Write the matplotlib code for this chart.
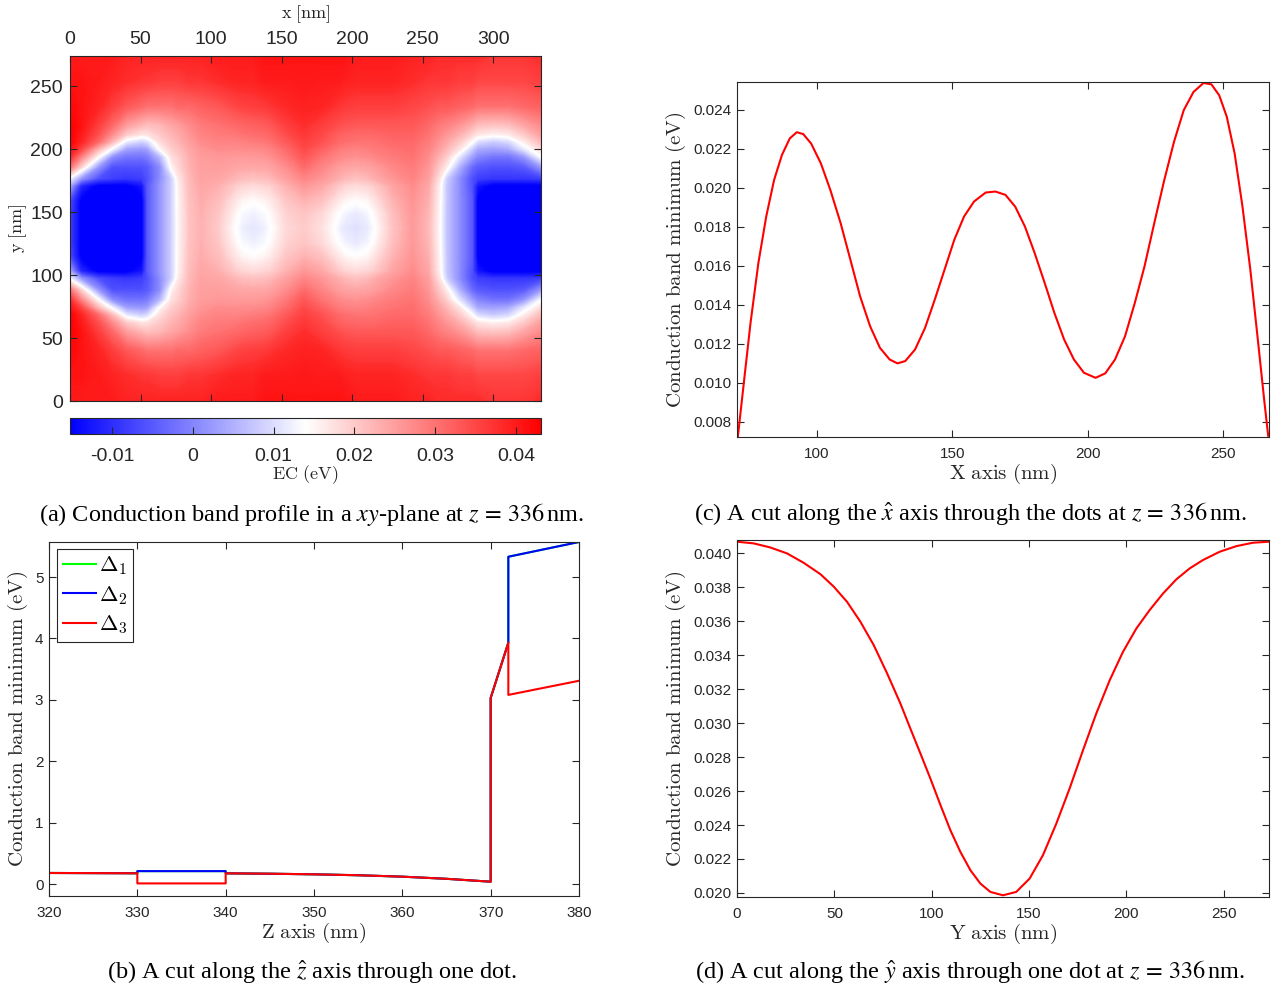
import numpy as np
import matplotlib
matplotlib.use("Agg")
import matplotlib.pyplot as plt
from matplotlib.colors import Normalize
from matplotlib.cm import ScalarMappable
from matplotlib.font_manager import FontProperties
from matplotlib.ticker import FormatStrFormatter

plt.rcParams['font.family'] = ['Liberation Sans', 'DejaVu Sans']
plt.rcParams['mathtext.fontset'] = 'stix'

# ---------------- data ----------------
# (a) conduction band in the xy-plane: grid values (eV), lower half, mirrored about y = 137 nm
map_x = [0, 8, 20, 30, 40, 51, 55, 64, 72, 77, 85, 93, 105, 118, 122, 130, 138, 142, 154,
         166, 178, 191, 195, 203, 211, 215, 229, 243, 254, 262, 267, 276, 285, 289, 300, 311, 322, 334]
map_y_half = [0, 20, 40, 55, 62, 68, 74, 80, 88, 97, 103, 115, 125, 137]
map_ec_half = [
    # y = 0
    [0.040, 0.040, 0.040, 0.040, 0.039, 0.039, 0.039, 0.039, 0.039, 0.039, 0.039, 0.039, 0.040, 0.040, 0.040,
     0.040, 0.041, 0.041, 0.041, 0.0408, 0.041, 0.041, 0.041, 0.040, 0.040, 0.040, 0.040, 0.039, 0.039, 0.038,
     0.038, 0.038, 0.038, 0.038, 0.037, 0.037, 0.037, 0.038],
    # y = 20
    [0.041, 0.041, 0.040, 0.039, 0.038, 0.037, 0.037, 0.036, 0.036, 0.036, 0.037, 0.037, 0.038, 0.039, 0.039,
     0.039, 0.040, 0.040, 0.040, 0.0403, 0.040, 0.040, 0.0395, 0.039, 0.039, 0.039, 0.039, 0.038, 0.037, 0.037,
     0.037, 0.036, 0.036, 0.035, 0.035, 0.035, 0.035, 0.036],
    # y = 40
    [0.042, 0.041, 0.039, 0.036, 0.033, 0.031, 0.030, 0.030, 0.030, 0.031, 0.031, 0.032, 0.033, 0.035, 0.0355,
     0.036, 0.0365, 0.037, 0.0385, 0.0393, 0.039, 0.037, 0.0365, 0.036, 0.036, 0.036, 0.036, 0.035, 0.034, 0.033,
     0.033, 0.032, 0.031, 0.030, 0.030, 0.030, 0.031, 0.032],
    # y = 55
    [0.043, 0.041, 0.036, 0.031, 0.025, 0.022, 0.021, 0.022, 0.024, 0.025, 0.027, 0.029, 0.030, 0.031, 0.0313,
     0.032, 0.0325, 0.033, 0.036, 0.0378, 0.036, 0.034, 0.0335, 0.033, 0.033, 0.033, 0.033, 0.033, 0.031, 0.029,
     0.028, 0.026, 0.023, 0.021, 0.0205, 0.021, 0.024, 0.027],
    # y = 62
    [0.043, 0.040, 0.034, 0.027, 0.020, 0.017, 0.0175, 0.020, 0.0225, 0.0235, 0.026, 0.028, 0.029, 0.0295, 0.030,
     0.0305, 0.031, 0.0315, 0.0345, 0.0368, 0.035, 0.032, 0.0315, 0.031, 0.031, 0.031, 0.032, 0.032, 0.030, 0.0275,
     0.026, 0.023, 0.019, 0.017, 0.0155, 0.0165, 0.020, 0.025],
    # y = 68
    [0.043, 0.039, 0.031, 0.022, 0.0115, 0.0085, 0.010, 0.018, 0.021, 0.0225, 0.025, 0.027, 0.028, 0.028, 0.0283,
     0.029, 0.0295, 0.030, 0.033, 0.0357, 0.034, 0.031, 0.0305, 0.030, 0.030, 0.030, 0.031, 0.031, 0.029, 0.026,
     0.024, 0.020, 0.0145, 0.010, 0.008, 0.0095, 0.016, 0.022],
    # y = 74
    [0.041, 0.035, 0.022, 0.0125, 0.003, 0.002, 0.003, 0.0145, 0.0195, 0.021, 0.024, 0.026, 0.027, 0.0268, 0.027,
     0.027, 0.0275, 0.028, 0.031, 0.0346, 0.032, 0.029, 0.0285, 0.028, 0.0285, 0.029, 0.030, 0.0305, 0.028, 0.0245,
     0.022, 0.017, 0.008, 0.004, 0.003, 0.004, 0.011, 0.018],
    # y = 80
    [0.038, 0.028, 0.0145, 0.001, -0.002, -0.002, -0.001, 0.006, 0.0175, 0.0195, 0.0232, 0.0252, 0.0258, 0.0255, 0.0255,
     0.0256, 0.026, 0.0265, 0.0295, 0.0332, 0.030, 0.0275, 0.027, 0.0265, 0.027, 0.0275, 0.029, 0.030, 0.027, 0.0225,
     0.0195, 0.011, 0.003, 0.000, -0.002, -0.002, 0.002, 0.0135],
    # y = 88
    [0.030, 0.019, 0.002, -0.006, -0.006, -0.006, -0.005, 0.001, 0.015, 0.0185, 0.0228, 0.0248, 0.025, 0.0242, 0.024,
     0.024, 0.024, 0.0245, 0.027, 0.0308, 0.028, 0.025, 0.0245, 0.024, 0.0245, 0.025, 0.0275, 0.029, 0.026, 0.020,
     0.016, 0.005, -0.003, -0.005, -0.006, -0.006, -0.005, 0.002],
    # y = 97
    [0.013, 0.002, -0.006, -0.008, -0.009, -0.008, -0.006, 0.001, 0.0085, 0.0165, 0.022, 0.0245, 0.024, 0.0222, 0.0215,
     0.021, 0.0215, 0.022, 0.025, 0.0278, 0.026, 0.023, 0.022, 0.021, 0.022, 0.023, 0.026, 0.028, 0.025, 0.017,
     0.0085, 0.001, -0.006, -0.008, -0.009, -0.009, -0.009, -0.008],
    # y = 103
    [0.004, -0.011, -0.016, -0.016, -0.016, -0.013, -0.005, 0.002, 0.0085, 0.0156, 0.0218, 0.024, 0.023, 0.0195, 0.0188,
     0.018, 0.0188, 0.0192, 0.0228, 0.0259, 0.024, 0.020, 0.0188, 0.018, 0.0188, 0.0195, 0.0243, 0.027, 0.024, 0.0155,
     0.0075, 0.001, -0.006, -0.013, -0.016, -0.016, -0.016, -0.016],
    # y = 115
    [-0.007, -0.016, -0.030, -0.030, -0.030, -0.016, -0.005, 0.002, 0.0085, 0.0153, 0.0213, 0.0233, 0.0215, 0.0165, 0.0152,
     0.0142, 0.0152, 0.0162, 0.0205, 0.0226, 0.0210, 0.0163, 0.0150, 0.0140, 0.0150, 0.0165, 0.0225, 0.0262, 0.0230, 0.0150,
     0.0074, 0.001, -0.005, -0.016, -0.030, -0.030, -0.030, -0.030],
    # y = 125
    [-0.008, -0.016, -0.030, -0.030, -0.030, -0.016, -0.005, 0.002, 0.0085, 0.0152, 0.021, 0.023, 0.0205, 0.0148, 0.0131,
     0.0122, 0.0132, 0.0145, 0.0192, 0.0205, 0.0185, 0.0138, 0.0125, 0.0115, 0.0127, 0.0143, 0.0213, 0.0257, 0.0224, 0.0147,
     0.0073, 0.001, -0.005, -0.016, -0.030, -0.030, -0.030, -0.030],
    # y = 137
    [-0.008, -0.016, -0.030, -0.030, -0.030, -0.016, -0.005, 0.002, 0.0085, 0.0150, 0.021, 0.0228, 0.0199, 0.0136, 0.0121,
     0.011, 0.0121, 0.0135, 0.0185, 0.0198, 0.0176, 0.0122, 0.0112, 0.0103, 0.0115, 0.0130, 0.0207, 0.0254, 0.0220, 0.0145,
     0.0072, 0.001, -0.005, -0.016, -0.030, -0.030, -0.030, -0.030],
]
map_y_max = 274
ec_min, ec_max = -0.0152, 0.0431
cbar_ticks = [-0.01, 0, 0.01, 0.02, 0.03, 0.04]
cbar_labels = ['-0.01', '0', '0.01', '0.02', '0.03', '0.04']

# (c) cut along x
cut_x = [70.7, 73.2, 75.4, 78.3, 81.2, 84.1, 87.0, 89.9, 92.5, 94.9, 97.8, 101.4, 104.9, 108.7, 112.3,
         115.9, 119.6, 123.2, 126.8, 129.7, 132.6, 136.2, 139.9, 143.5, 147.1, 150.7, 154.3, 158.0,
         162.3, 165.9, 169.6, 173.2, 176.8, 180.4, 184.1, 187.7, 191.3, 194.9, 198.6, 202.9, 206.5,
         210.1, 213.8, 217.4, 221.0, 224.6, 228.3, 231.9, 235.5, 239.1, 242.8, 245.7, 248.6, 251.4,
         254.3, 257.2, 260.1, 263.0, 265.2, 266.7]
cut_x_ec = [0.00723, 0.01035, 0.01307, 0.01614, 0.01852, 0.02039, 0.02167, 0.02252, 0.02284, 0.02274,
            0.02226, 0.02124, 0.01988, 0.01818, 0.01631, 0.01443, 0.01290, 0.01180, 0.01120, 0.01100,
            0.01112, 0.01171, 0.01282, 0.01427, 0.01580, 0.01733, 0.01852, 0.01929, 0.01975, 0.01980,
            0.01963, 0.01903, 0.01801, 0.01665, 0.01512, 0.01358, 0.01222, 0.01120, 0.01052, 0.01026,
            0.01049, 0.01120, 0.01239, 0.01409, 0.01597, 0.01818, 0.02039, 0.02235, 0.02397, 0.02490,
            0.02536, 0.02529, 0.02473, 0.02363, 0.02175, 0.01903, 0.01580, 0.01205, 0.00916, 0.00729]

# (d) cut along y
cut_y = [0, 8.6, 17.1, 25.7, 34.2, 42.8, 49.7, 56.5, 63.4, 70.2, 77.1, 83.9, 89.0, 94.2, 99.3, 104.5,
         109.6, 114.7, 119.9, 125.0, 130.1, 136.6, 143.4, 150.3, 157.1, 164.0, 170.8, 177.7, 184.5,
         191.4, 198.2, 205.1, 211.9, 218.8, 225.6, 232.5, 239.3, 247.9, 256.5, 265.0, 273.2]
cut_y_ec = [0.04069, 0.04059, 0.04035, 0.04000, 0.03945, 0.03878, 0.03804, 0.03715, 0.03597, 0.03460,
            0.03293, 0.03116, 0.02969, 0.02821, 0.02674, 0.02517, 0.02369, 0.02242, 0.02133, 0.02055,
            0.02006, 0.01986, 0.02006, 0.02085, 0.02222, 0.02409, 0.02615, 0.02841, 0.03057, 0.03253,
            0.03420, 0.03558, 0.03666, 0.03764, 0.03847, 0.03912, 0.03961, 0.04010, 0.04043, 0.04063, 0.04069]

# (b) cut along z, three valleys
cut_z = [320, 330, 330, 340, 340, 345, 350, 355, 360, 365, 370, 370, 372, 372, 380]
delta1 = [0.18, 0.175, 0.21, 0.21, 0.174, 0.168, 0.158, 0.143, 0.12, 0.085, 0.038, 3.03, 3.93, 5.33, 5.57]
delta2 = [0.18, 0.175, 0.21, 0.21, 0.174, 0.168, 0.158, 0.143, 0.12, 0.085, 0.038, 3.03, 3.93, 5.33, 5.57]
delta3 = [0.18, 0.175, 0.01, 0.01, 0.174, 0.168, 0.158, 0.143, 0.12, 0.085, 0.038, 3.03, 3.93, 3.08, 3.31]

# ---------------- figure ----------------
W, H = 1276, 988
fig = plt.figure(figsize=(W / 100, H / 100), dpi=100)
DARK = '#262626'


def box(l, t, r, b):
    return [l / W, 1 - b / H, (r - l) / W, (b - t) / H]


def cm(s):
    return r'$\mathrm{' + s.replace(' ', r'\ ') + '}$'


def style(ax, size):
    ax.tick_params(direction='in', top=True, right=True, length=5, width=0.8,
                   colors=DARK, labelsize=size)
    for sp in ax.spines.values():
        sp.set_color(DARK)
        sp.set_linewidth(0.8)


# (a) map
ax_a = fig.add_axes(box(70, 56, 541, 401))
map_y = map_y_half + [map_y_max - y for y in map_y_half[-2::-1]]
map_ec = np.array(map_ec_half + map_ec_half[-2::-1])
ax_a.contourf(map_x, map_y, map_ec, levels=np.linspace(ec_min, ec_max, 241),
              cmap='bwr', extend='both', antialiased=False)
ax_a.set_xlim(0, max(map_x))
ax_a.set_ylim(0, map_y_max)
ax_a.set_xticks([0, 50, 100, 150, 200, 250, 300])
ax_a.set_yticks([0, 50, 100, 150, 200, 250])
style(ax_a, 14)
ax_a.tick_params(labeltop=True, labelbottom=False)
ax_a.tick_params(axis='x', pad=6)
ax_a.tick_params(axis='y', pad=5)
ax_a.xaxis.set_label_position('top')
ax_a.set_xlabel(cm('x [nm]'), fontsize=13, math_fontfamily='cm', color=DARK)
ax_a.xaxis.label.set_va('center')
ax_a.xaxis.set_label_coords(0.5, (401 - 14) / 345)
ax_a.set_ylabel(cm('y [nm]'), fontsize=13, math_fontfamily='cm', color=DARK)
ax_a.yaxis.label.set_va('center')
ax_a.yaxis.set_label_coords((18 - 70) / 471, 0.5)

cax = fig.add_axes(box(70, 418, 541, 434))
cb = fig.colorbar(ScalarMappable(Normalize(ec_min, ec_max), cmap='bwr'), cax=cax,
                  orientation='horizontal', ticks=cbar_ticks)
cb.ax.set_xticklabels(cbar_labels)
cb.ax.tick_params(direction='in', length=5, width=0.8, colors=DARK, labelsize=14, pad=10)
cb.outline.set_edgecolor(DARK)
cb.outline.set_linewidth(0.8)
cax.set_xlabel(cm('EC (eV)'), fontsize=13, math_fontfamily='cm', color=DARK)
cax.xaxis.label.set_va('center')
cax.xaxis.set_label_coords(0.5, (434 - 475) / 16)

# (c) cut along x
ax_c = fig.add_axes(box(737, 82, 1269, 437))
ax_c.plot(cut_x, cut_x_ec, color='red', lw=1.5)
ax_c.set_xlim(min(cut_x) - 0.3, max(cut_x) + 0.3)
ax_c.set_ylim(min(cut_x_ec), max(cut_x_ec) + 0.00005)
ax_c.set_xticks([100, 150, 200, 250])
ax_c.set_yticks(np.linspace(0.008, 0.024, 9))
ax_c.yaxis.set_major_formatter(FormatStrFormatter('%.3f'))
style(ax_c, 11)
ax_c.tick_params(axis='x', pad=7)
ax_c.tick_params(axis='y', pad=4)

# (b) cut along z
ax_b = fig.add_axes(box(49, 542, 579, 896))
ax_b.plot(cut_z, delta1, color=(0, 1, 0), lw=1.5, label=r'$\Delta_1$')
ax_b.plot(cut_z, delta2, color=(0, 0, 1), lw=1.5, label=r'$\Delta_2$')
ax_b.plot(cut_z, delta3, color=(1, 0, 0), lw=1.5, label=r'$\Delta_3$')
ax_b.set_xlim(320, 380)
ax_b.set_ylim(-0.195, 5.57)
ax_b.set_xticks(range(320, 381, 10))
ax_b.set_yticks(range(0, 6))
style(ax_b, 11)
ax_b.tick_params(axis='x', pad=7)
ax_b.tick_params(axis='y', pad=4)
leg = ax_b.legend(loc='upper left', bbox_to_anchor=((57 - 49) / 530, 1 - (549 - 542) / 354),
                  borderaxespad=0, prop=FontProperties(size=16, math_fontfamily='cm'),
                  fancybox=False, framealpha=1, edgecolor=DARK, handlelength=1.5,
                  handletextpad=0.15, borderpad=0.25, labelspacing=0.3)
leg.get_frame().set_linewidth(0.8)

# (d) cut along y
ax_d = fig.add_axes(box(737, 540, 1269, 897))
ax_d.plot(cut_y, cut_y_ec, color='red', lw=1.5)
ax_d.set_xlim(min(cut_y), max(cut_y))
ax_d.set_ylim(min(cut_y_ec) - 0.0001, max(cut_y_ec) + 0.0001)
ax_d.set_xticks([0, 50, 100, 150, 200, 250])
ax_d.set_yticks(np.linspace(0.020, 0.040, 11))
ax_d.yaxis.set_major_formatter(FormatStrFormatter('%.3f'))
style(ax_d, 11)
ax_d.tick_params(axis='x', pad=7)
ax_d.tick_params(axis='y', pad=4)

# axis labels of the line plots
for ax, xl, top, bot in [(ax_c, 'X axis (nm)', 82, 437), (ax_b, 'Z axis (nm)', 542, 896),
                         (ax_d, 'Y axis (nm)', 540, 897)]:
    ax.set_xlabel(cm(xl), fontsize=15, math_fontfamily='cm', color=DARK)
    ax.xaxis.label.set_va('center')
    ax.xaxis.set_label_coords(0.5, -37 / (bot - top))
    ax.set_ylabel(cm('Conduction band minimum (eV)'), fontsize=15, math_fontfamily='cm', color=DARK)
    ax.yaxis.label.set_va('center')
ax_c.yaxis.set_label_coords((676 - 737) / 532, 0.5)
ax_d.yaxis.set_label_coords((676 - 737) / 532, 0.5)
ax_b.yaxis.set_label_coords((18 - 49) / 530, 0.5)

# captions
cap = dict(ha='center', va='center', fontsize=17.5, family='Liberation Serif')
fig.text(312 / W, 1 - 514 / H, r'(a) Conduction band profile in a $xy$-plane at $z\,=\,336\,$nm.', **cap)
fig.text(970 / W, 1 - 514 / H, r'(c) A cut along the $\hat{x}$ axis through the dots at $z\,=\,336\,$nm.', **cap)
fig.text(312 / W, 1 - 972 / H, r'(b) A cut along the $\hat{z}$ axis through one dot.', **cap)
fig.text(970 / W, 1 - 972 / H, r'(d) A cut along the $\hat{y}$ axis through one dot at $z\,=\,336\,$nm.', **cap)

fig.savefig('out.png', dpi=100)
